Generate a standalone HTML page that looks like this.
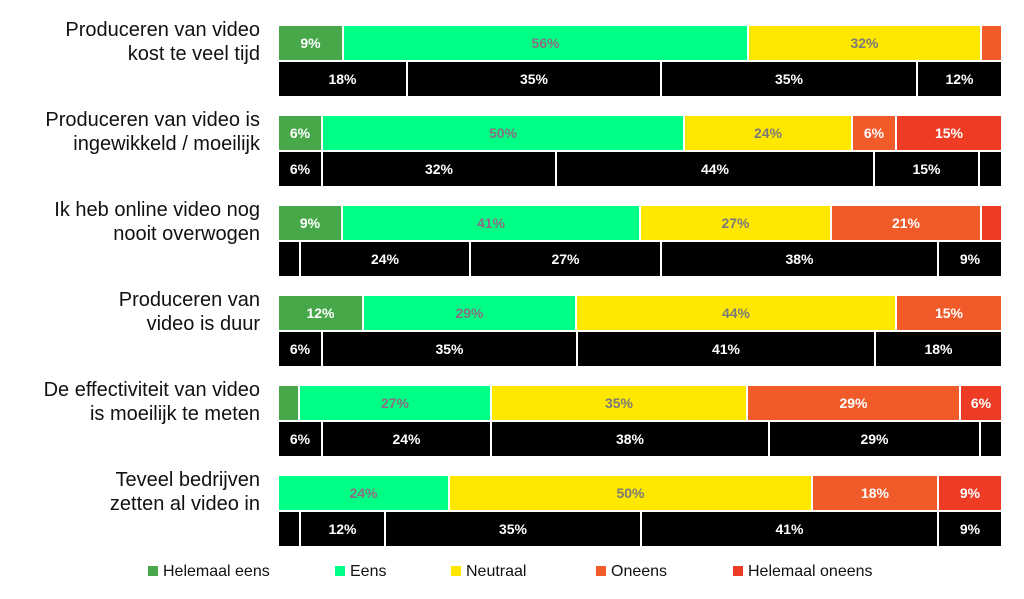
<!DOCTYPE html>
<html><head><meta charset="utf-8"><style>
body{margin:0;width:1024px;height:599px;background:#fff;position:relative;overflow:hidden;font-family:"Liberation Sans",sans-serif}
.s{position:absolute;height:34px;display:flex;align-items:center;justify-content:center;font-weight:bold;font-size:14px;color:#fff}
.dg{background:#47a84a}.g{background:#00ff85;color:#8a6f84}.y{background:#ffe800;color:#7a7a7a}.o{background:#f15a29}.r{background:#ee3b24}.b{background:#000}
.q{position:absolute;right:764px;text-align:right;font-size:20px;line-height:24px;color:#111;white-space:nowrap}
.lg{position:absolute;top:563px;font-size:16px;color:#111;line-height:18px}
.lg i{display:inline-block;width:10px;height:10px;margin-right:5px;vertical-align:0}
</style></head><body>
<div class="q" style="top:18px">Produceren van video<br>kost te veel tijd</div>
<div class="q" style="top:108px">Produceren van video is<br>ingewikkeld / moeilijk</div>
<div class="q" style="top:198px">Ik heb online video nog<br>nooit overwogen</div>
<div class="q" style="top:288px">Produceren van<br>video is duur</div>
<div class="q" style="top:378px">De effectiviteit van video<br>is moeilijk te meten</div>
<div class="q" style="top:468px">Teveel bedrijven<br>zetten al video in</div>
<div id="c"></div>
<script>
const rows=[
[[["dg",279,342,"9%"],["g",344,747,"56%"],["y",749,980,"32%"],["o",982,1001,""]],
 [[279,406,"18%"],[408,660,"35%"],[662,916,"35%"],[918,1001,"12%"]]],
[[["dg",279,321,"6%"],["g",323,683,"50%"],["y",685,851,"24%"],["o",853,895,"6%"],["r",897,1001,"15%"]],
 [[279,321,"6%"],[323,555,"32%"],[557,873,"44%"],[875,978,"15%"],[980,1001,""]]],
[[["dg",279,341,"9%"],["g",343,639,"41%"],["y",641,830,"27%"],["o",832,980,"21%"],["r",982,1001,""]],
 [[279,299,""],[301,469,"24%"],[471,660,"27%"],[662,937,"38%"],[939,1001,"9%"]]],
[[["dg",279,362,"12%"],["g",364,575,"29%"],["y",577,895,"44%"],["o",897,1001,"15%"]],
 [[279,321,"6%"],[323,576,"35%"],[578,874,"41%"],[876,1001,"18%"]]],
[[["dg",279,298,""],["g",300,490,"27%"],["y",492,746,"35%"],["o",748,959,"29%"],["r",961,1001,"6%"]],
 [[279,321,"6%"],[323,490,"24%"],[492,768,"38%"],[770,979,"29%"],[981,1001,""]]],
[[["g",279,448,"24%"],["y",450,811,"50%"],["o",813,937,"18%"],["r",939,1001,"9%"]],
 [[279,299,""],[301,384,"12%"],[386,640,"35%"],[642,937,"41%"],[939,1001,"9%"]]]];
let h="";
rows.forEach((r,i)=>{const t=26+i*90;
r[0].forEach(s=>h+=`<div class="s ${s[0]}" style="top:${t}px;left:${s[1]}px;width:${s[2]-s[1]}px">${s[3]}</div>`);
r[1].forEach(s=>h+=`<div class="s b" style="top:${t+36}px;left:${s[0]}px;width:${s[1]-s[0]}px">${s[2]}</div>`);});
document.getElementById("c").innerHTML=h;
</script>
<div class="lg" style="left:148px"><i style="background:#47a84a"></i>Helemaal eens</div>
<div class="lg" style="left:335px"><i style="background:#00ff85"></i>Eens</div>
<div class="lg" style="left:451px"><i style="background:#ffe800"></i>Neutraal</div>
<div class="lg" style="left:596px"><i style="background:#f15a29"></i>Oneens</div>
<div class="lg" style="left:733px"><i style="background:#ee3b24"></i>Helemaal oneens</div>
</body></html>
